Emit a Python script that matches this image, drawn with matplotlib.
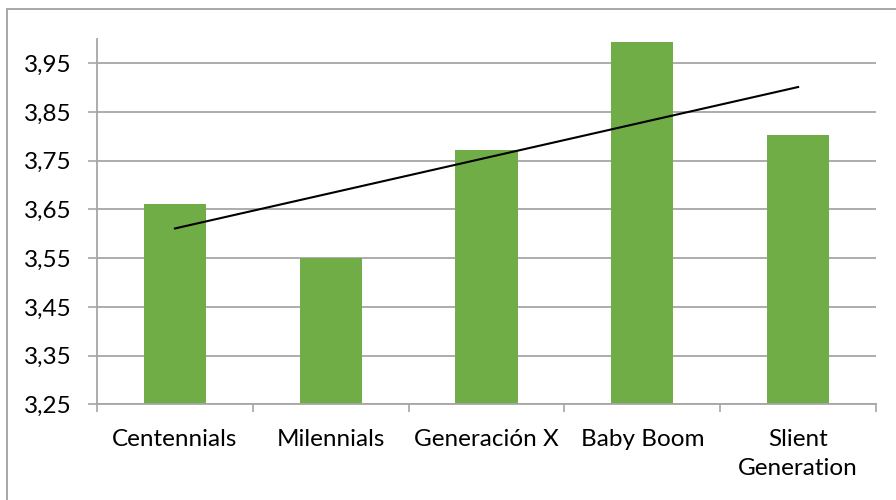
import numpy as np
import matplotlib
matplotlib.use("Agg")
import matplotlib.pyplot as plt
from matplotlib.patches import Rectangle
from matplotlib.ticker import FixedLocator, FuncFormatter

categories = ["Centennials", "Milennials", "Generación X", "Baby Boom", "Slient\nGeneration"]
values = [3.662, 3.55, 3.772, 3.994, 3.803]
y_ticks = [3.25, 3.35, 3.45, 3.55, 3.65, 3.75, 3.85, 3.95]

plt.rcParams['font.family'] = ['Lato', 'DejaVu Sans']

fig = plt.figure(figsize=(8.96, 5.0), dpi=100)
ax = fig.add_axes([97/896, (500-404.3)/500, (876-97)/896, (404.3-39)/500])

x = np.arange(len(categories))
ax.bar(x, values, width=0.4, color="#70ad47", zorder=2)

# linear trendline
coef = np.polyfit(x, values, 1)
ax.plot([x[0], x[-1]], np.polyval(coef, [x[0], x[-1]]), color="black", lw=1.5, zorder=3)

ax.set_xlim(-0.5, len(categories) - 0.5)
ax.set_ylim(3.25, 4.0)
ax.set_yticks(y_ticks)
ax.yaxis.set_major_formatter(FuncFormatter(lambda v, p: f"{v:.2f}".replace(".", ",")))
ax.grid(axis="y", color="#a6a6a6", lw=1.3, zorder=0)

ax.set_xticks(x)
ax.set_xticklabels(categories, fontsize=17.5, linespacing=1.5)
ax.xaxis.set_minor_locator(FixedLocator(np.arange(-0.5, len(categories), 1.0)))
ax.tick_params(axis="x", which="major", length=0, pad=17.5)
ax.tick_params(axis="x", which="minor", length=6, width=1.2, color="#a6a6a6", direction="out")
ax.tick_params(axis="y", length=6.5, width=1.2, color="#a6a6a6", pad=12, labelsize=17.5)

for s in ["top", "right"]:
    ax.spines[s].set_visible(False)
for s in ["left", "bottom"]:
    ax.spines[s].set_color("#a6a6a6")
    ax.spines[s].set_linewidth(1.3)

# chart border
fig.add_artist(Rectangle((7/896, -0.1), 2.0, 1 - 9/500 + 0.1, transform=fig.transFigure,
                         fill=False, edgecolor="#a0a0a0", lw=1.3))

fig.savefig("out.png", dpi=100)
